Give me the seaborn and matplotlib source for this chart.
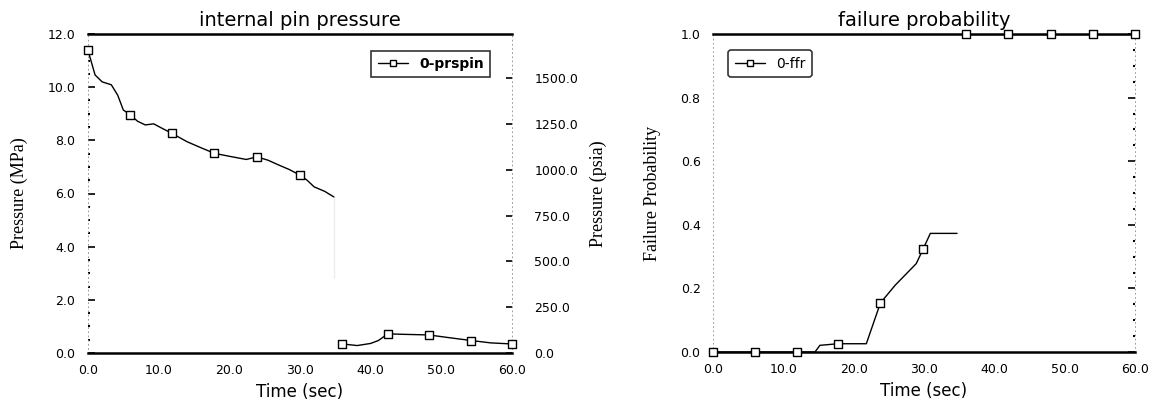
import numpy as np
import pandas as pd
import matplotlib
matplotlib.use("Agg")
import matplotlib.pyplot as plt
import seaborn as sns
from matplotlib.ticker import MultipleLocator, FormatStrFormatter

# ---------------- data ----------------
# internal pin pressure (MPa), two segments
p1_time = [0.0, 0.2, 1.0, 2.0, 3.3, 4.2, 5.0, 6.0, 7.0, 8.1, 9.3, 10.5, 11.9, 14.0, 16.0, 17.9,
           20.0, 22.4, 23.9, 25.5, 27.0, 28.5, 30.0, 31.0, 32.0, 33.5, 34.8]
p1_mpa = [11.40, 11.20, 10.46, 10.20, 10.09, 9.70, 9.14, 8.96, 8.72, 8.58, 8.62, 8.45, 8.26, 7.95, 7.72, 7.51,
          7.40, 7.28, 7.38, 7.25, 7.07, 6.90, 6.69, 6.50, 6.25, 6.08, 5.87]
p2_time = [36.0, 38.1, 40.0, 41.1, 42.4, 45.0, 48.2, 51.0, 54.2, 57.0, 60.0]
p2_mpa = [0.34, 0.28, 0.36, 0.47, 0.72, 0.70, 0.68, 0.58, 0.47, 0.38, 0.34]
p_mark_time = [0.0, 6.0, 11.9, 17.9, 23.9, 30.0, 36.0, 42.4, 48.2, 54.2, 60.0]
p_mark_mpa = [11.40, 8.96, 8.26, 7.51, 7.38, 6.69, 0.34, 0.72, 0.68, 0.47, 0.34]

# failure probability, two segments
f1_time = [0.0, 14.5, 15.2, 17.8, 21.8, 23.8, 25.9, 28.9, 29.9, 30.9, 34.7]
f1_prob = [0.0, 0.0, 0.021, 0.026, 0.026, 0.154, 0.21, 0.278, 0.325, 0.373, 0.373]
f2_time = [36.0, 42.0, 48.0, 54.0, 60.0]
f2_prob = [1.0, 1.0, 1.0, 1.0, 1.0]
f_mark_time = [0.0, 6.0, 12.0, 17.8, 23.8, 29.9, 36.0, 42.0, 48.0, 54.0, 60.0]
f_mark_prob = [0.0, 0.0, 0.0, 0.026, 0.154, 0.325, 1.0, 1.0, 1.0, 1.0, 1.0]

x_ticks = [0, 10, 20, 30, 40, 50, 60]
mpa_ticks = [0, 2, 4, 6, 8, 10, 12]
psia_ticks = [0, 250, 500, 750, 1000, 1250, 1500]
prob_ticks = [0.0, 0.2, 0.4, 0.6, 0.8, 1.0]
MPA_TO_PSIA = 145.038

# ---------------- style ----------------
sns.set_theme(style="white")
plt.rcParams['font.family'] = ['DejaVu Sans']
plt.rcParams.update({'text.color': 'black', 'axes.labelcolor': 'black',
                     'xtick.color': 'black', 'ytick.color': 'black',
                     'axes.titlecolor': 'black'})
SERIF = 'Liberation Serif'

fig = plt.figure(figsize=(11.57, 4.12), dpi=100)
axL = fig.add_axes([88 / 1157, 1 - 353 / 412, 424 / 1157, 319 / 412])
axR = fig.add_axes([713 / 1157, 1 - 352 / 412, 422 / 1157, 318 / 412])


def style_axes(ax):
    for s in ['top', 'bottom']:
        ax.spines[s].set_color('black')
        ax.spines[s].set_linewidth(1.8)
    for s in ['left', 'right']:
        ax.spines[s].set_color('#888888')
        ax.spines[s].set_linewidth(0.6)
        ax.spines[s].set_linestyle((0, (1, 4)))
    ax.set_xlim(0, 60)
    ax.set_xticks(x_ticks)
    ax.xaxis.set_major_formatter(FormatStrFormatter('%.1f'))
    ax.tick_params(axis='x', length=0, pad=8, labelsize=9, labelcolor='black')
    ax.tick_params(axis='y', which='major', direction='in', length=5, width=1.2,
                   color='black', labelsize=9, pad=9, labelcolor='black')
    ax.tick_params(axis='y', which='minor', direction='in', length=1.5, width=1.5,
                   color='black')
    ax.grid(False)


def marker_scatter(ax, xs, ys):
    sns.scatterplot(x=xs, y=ys, ax=ax, marker='s', s=26, color='white',
                    edgecolor='black', linewidth=1.0, zorder=5, clip_on=False, legend=False)


# ---------------- left: internal pin pressure ----------------
style_axes(axL)
sns.lineplot(x=p1_time, y=p1_mpa, ax=axL, color='black', linewidth=1.0, sort=False)
sns.lineplot(x=p2_time, y=p2_mpa, ax=axL, color='black', linewidth=1.0, sort=False)
sns.lineplot(x=[p1_time[-1], p1_time[-1]], y=[p1_mpa[-1], p2_mpa[0] + 2.5], ax=axL,
             color='#aaaaaa', linewidth=0.6, sort=False)
marker_scatter(axL, p_mark_time, p_mark_mpa)
axL.plot([], [], color='black', linewidth=1.0, marker='s', markersize=5,
         markerfacecolor='white', markeredgecolor='black', label='0-prspin')
axL.set_ylim(0, 12)
axL.set_yticks(mpa_ticks)
axL.yaxis.set_minor_locator(MultipleLocator(0.5))
axL.yaxis.set_major_formatter(FormatStrFormatter('%.1f'))
axL.set_xlabel('Time (sec)', fontsize=12, labelpad=4)
axL.set_ylabel('Pressure (MPa)', fontsize=13, family=SERIF, labelpad=14)
axL.set_title('internal pin pressure', fontsize=14, pad=6)
legL = axL.legend(loc='upper right', bbox_to_anchor=(0.965, 0.97), frameon=True, fancybox=False,
                  handlelength=2.2, borderpad=0.45, prop={'weight': 'bold', 'size': 10})
legL.get_frame().set_edgecolor('black')
legL.get_frame().set_linewidth(1.2)

axP = axL.twinx()
axP.set_ylim(0, 12 * MPA_TO_PSIA)
axP.set_yticks(psia_ticks)
axP.yaxis.set_major_formatter(FormatStrFormatter('%.1f'))
axP.tick_params(axis='y', which='major', direction='in', length=4, width=1.2,
                color='black', labelsize=9, pad=16, labelcolor='black')
for s in ['top', 'bottom', 'left', 'right']:
    axP.spines[s].set_visible(False)
axP.set_ylabel('Pressure (psia)', fontsize=13, family=SERIF, labelpad=8)
axP.grid(False)

# ---------------- right: failure probability ----------------
style_axes(axR)
sns.lineplot(x=f1_time, y=f1_prob, ax=axR, color='black', linewidth=1.0, sort=False)
sns.lineplot(x=f2_time, y=f2_prob, ax=axR, color='black', linewidth=1.0, sort=False)
marker_scatter(axR, f_mark_time, f_mark_prob)
axR.plot([], [], color='black', linewidth=1.0, marker='s', markersize=5,
         markerfacecolor='white', markeredgecolor='black', label='0-ffr')
axR.set_ylim(0, 1.0)
axR.set_yticks(prob_ticks)
axR.yaxis.set_minor_locator(MultipleLocator(0.05))
axR.yaxis.set_major_formatter(FormatStrFormatter('%.1f'))
axR.tick_params(axis='y', which='both', right=True)
axR.set_xlabel('Time (sec)', fontsize=12, labelpad=4)
axR.set_ylabel('Failure Probability', fontsize=13, family=SERIF, labelpad=14)
axR.set_title('failure probability', fontsize=14, pad=6)
legR = axR.legend(loc='upper left', bbox_to_anchor=(0.02, 0.97), frameon=True, fancybox=True,
                  handlelength=2.2, borderpad=0.45, prop={'size': 10})
legR.get_frame().set_edgecolor('black')
legR.get_frame().set_linewidth(1.2)

fig.savefig('out.png', dpi=100)
